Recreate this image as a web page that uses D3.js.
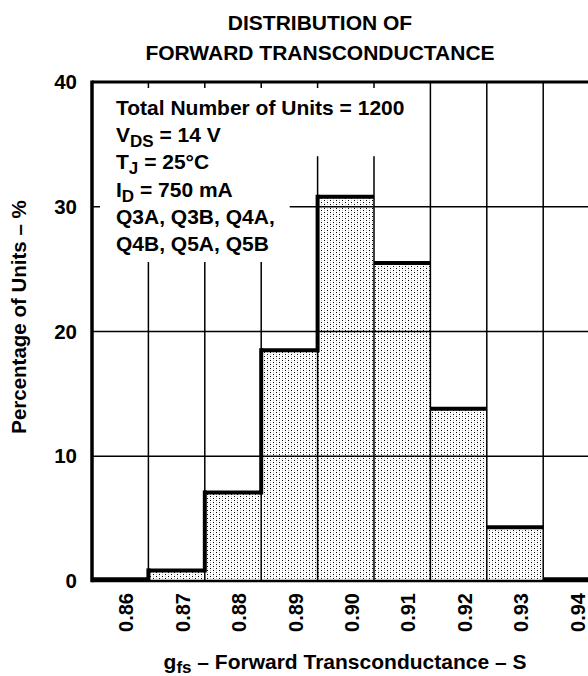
<!DOCTYPE html>
<html>
<head>
<meta charset="utf-8">
<script src="https://cdn.jsdelivr.net/npm/d3@7"></script>
<style>
  body { margin: 0; background: #fff; }
  text { font-family: "Liberation Sans", Arial, sans-serif; font-weight: bold; fill: #000; }
</style>
</head>
<body>
<div id="chart"></div>
<script>
// data
const bins = ["0.86", "0.87", "0.88", "0.89", "0.90", "0.91", "0.92", "0.93", "0.94"];
const percent = [0.15, 0.85, 7.1, 18.5, 30.8, 25.5, 13.8, 4.3, 0.15];
const yTicks = [0, 10, 20, 30, 40];
const titleLines = ["DISTRIBUTION OF", "FORWARD TRANSCONDUCTANCE"];
const noteLines = [
  [["Total Number of Units = 1200"]],
  [["V"], ["DS", "sub"], [" = 14 V"]],
  [["T"], ["J", "sub"], [" = 25°C"]],
  [["I"], ["D", "sub"], [" = 750 mA"]],
  [["Q3A, Q3B, Q4A,"]],
  [["Q4B, Q5A, Q5B"]]
];

(function() {
  const W = 588, H = 676;
  const pLeft = 92, pRight = 599.6, pTop = 82, pBottom = 581;

  const svg = d3.select("#chart").append("svg")
    .attr("width", W).attr("height", H);

  // stipple fill
  const pat = svg.append("defs").append("pattern")
    .attr("id", "dots").attr("patternUnits", "userSpaceOnUse")
    .attr("width", 6).attr("height", 4);
  pat.append("rect").attr("width", 6).attr("height", 4).attr("fill", "#fff");
  [[0, 0, "#000"], [3, 0, "#c4c4c4"], [0, 2, "#c4c4c4"], [3, 2, "#000"]].forEach(d => {
    pat.append("rect").attr("x", d[0]).attr("y", d[1]).attr("width", 1).attr("height", 1).attr("fill", d[2]);
  });

  const x = d3.scaleBand().domain(bins).range([pLeft, pRight]).paddingInner(0).paddingOuter(0);
  const y = d3.scaleLinear().domain([0, 40]).range([pBottom, pTop]);

  // bars
  svg.append("g").selectAll("rect").data(bins).join("rect")
    .attr("x", d => x(d))
    .attr("y", (d, i) => y(percent[i]))
    .attr("width", x.bandwidth())
    .attr("height", (d, i) => pBottom - y(percent[i]))
    .attr("fill", "url(#dots)");

  // grid
  const grid = svg.append("g").attr("stroke", "#000").attr("stroke-width", 1.5);
  yTicks.filter(v => v > 0 && v < 40).forEach(v => {
    grid.append("line").attr("x1", pLeft).attr("x2", pRight).attr("y1", y(v)).attr("y2", y(v));
  });
  bins.slice(1).forEach(b => {
    grid.append("line").attr("x1", x(b)).attr("x2", x(b)).attr("y1", pTop).attr("y2", pBottom);
  });

  // note block with a white mask behind it
  const noteX = 116, noteY = 115, noteStep = 27.2;
  const maskG = svg.append("g");
  const note = svg.append("g");
  noteLines.forEach((parts, i) => {
    const t = note.append("text").attr("x", noteX).attr("y", noteY + i * noteStep).style("font-size", "21px");
    parts.forEach((p, j) => {
      const s = t.append("tspan").text(p[0]);
      if (p[1] === "sub") s.attr("dy", 5).style("font-size", "17px");
      else if (j > 0) s.attr("dy", -5);
    });
  });
  const widths = note.selectAll("text").nodes().map(n => n.getBBox().width);
  maskG.append("rect").attr("x", pLeft + 8).attr("y", pTop + 6)
    .attr("width", noteX + widths[0] + 6 - pLeft - 8)
    .attr("height", noteY + noteStep + 14 - pTop - 6).attr("fill", "#fff");
  maskG.append("rect").attr("x", pLeft + 8).attr("y", pTop + 6)
    .attr("width", noteX + d3.max(widths.slice(1)) + 15 - pLeft - 8)
    .attr("height", noteY + 5 * noteStep + 11 - pTop - 6).attr("fill", "#fff");

  // histogram outline: tops and rising edges heavy
  const outline = svg.append("g").attr("stroke", "#000").attr("stroke-width", 4).attr("fill", "none");
  bins.forEach((b, i) => {
    outline.append("line").attr("x1", x(b)).attr("x2", x(b) + x.bandwidth())
      .attr("y1", y(percent[i])).attr("y2", y(percent[i]));
    if (i > 0 && percent[i] > percent[i - 1]) {
      outline.append("line").attr("x1", x(b)).attr("x2", x(b))
        .attr("y1", y(percent[i - 1]) + 2).attr("y2", y(percent[i]) - 2);
    }
  });

  // frame
  svg.append("line").attr("x1", pLeft).attr("x2", pLeft).attr("y1", pTop - 1.5).attr("y2", pBottom + 1.2)
    .attr("stroke", "#000").attr("stroke-width", 3.5);
  svg.append("line").attr("x1", pLeft).attr("x2", pRight).attr("y1", pTop).attr("y2", pTop)
    .attr("stroke", "#000").attr("stroke-width", 3);
  svg.append("line").attr("x1", pLeft).attr("x2", pRight).attr("y1", pBottom).attr("y2", pBottom)
    .attr("stroke", "#000").attr("stroke-width", 2.5);

  // y axis labels
  const yAxis = svg.append("g").attr("transform", `translate(${pLeft - 15},0)`)
    .call(d3.axisLeft(y).tickValues(yTicks).tickSize(0).tickPadding(0));
  yAxis.select(".domain").remove();
  yAxis.attr("font-family", null);
  yAxis.selectAll("text").style("font-size", "20.5px");

  // x axis labels, rotated
  const xAxis = svg.append("g").attr("transform", `translate(6,${pBottom})`)
    .call(d3.axisBottom(x).tickSize(0).tickPadding(0));
  xAxis.select(".domain").remove();
  xAxis.attr("font-family", null);
  xAxis.selectAll("text")
    .attr("transform", "translate(0,12) rotate(-90)")
    .attr("text-anchor", "end").attr("x", 0).attr("y", 0).attr("dy", "0.36em")
    .style("font-size", "20px");

  // titles
  svg.append("g").selectAll("text").data(titleLines).join("text")
    .attr("x", 320).attr("y", (d, i) => 30 + i * 29.5)
    .attr("text-anchor", "middle").style("font-size", "21px")
    .text(d => d);

  const xt = svg.append("text").attr("x", 345).attr("y", 669).attr("text-anchor", "middle").style("font-size", "21px");
  xt.append("tspan").text("g");
  xt.append("tspan").attr("dy", 4).style("font-size", "17px").text("fs");
  xt.append("tspan").attr("dy", -4).text(" – Forward Transconductance – S");

  svg.append("text").attr("transform", "translate(26,317) rotate(-90)")
    .attr("text-anchor", "middle").style("font-size", "20.5px")
    .text("Percentage of Units – %");
})();
</script>
</body>
</html>
